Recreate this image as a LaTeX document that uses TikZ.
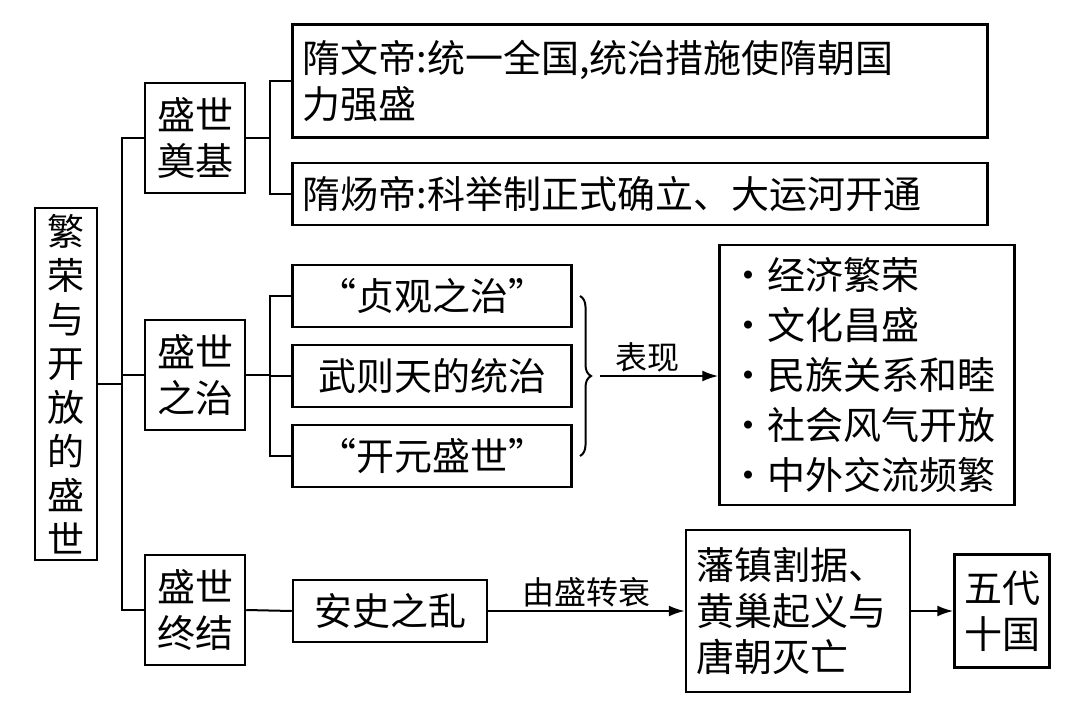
\documentclass[tikz,border=0pt]{standalone}
\usepackage{fontspec}
\setmainfont{Noto Sans CJK SC}
\usetikzlibrary{arrows.meta,decorations.pathreplacing}
\tikzset{
  box/.style={draw, line width=2.5pt, inner sep=0pt, font=\fontsize{38}{46}\selectfont},
  lbox/.style={box, align=left, inner xsep=10pt},
  link/.style={line width=2pt},
  arr/.style={line width=2pt, -{Latex[length=16pt,width=11pt]}},
  lab/.style={font=\fontsize{32}{36}\selectfont, above}
}
\begin{document}
\begin{tikzpicture}[x=1pt, y=-1pt]
  \useasboundingbox (0,0) rectangle (1076,720);

  % root
  \node[box, minimum width=62pt, minimum height=352pt, align=center,
        font=\fontsize{37}{44}\selectfont] (root) at (66,384)
        {繁\\荣\\与\\开\\放\\的\\盛\\世};

  % level one
  \node[box, minimum width=100pt, minimum height=110pt, align=center] (jd) at (195,138) {盛世\\奠基};
  \node[box, minimum width=100pt, minimum height=110pt, align=center] (zz) at (195,375) {盛世\\之治};
  \node[box, minimum width=100pt, minimum height=110pt, align=center] (zj) at (195,610) {盛世\\终结};

  % level two
  \node[lbox, text width=675pt, minimum height=113pt] (wd) at (640,81)
        {隋文帝:统一全国,统治措施使隋朝国\\力强盛};
  \node[lbox, text width=675pt, minimum height=62pt] (yd) at (640,194)
        {隋炀帝:科举制正式确立、大运河开通};
  \node[box, minimum width=279pt, minimum height=62pt] (zg) at (432,296) {“贞观之治”};
  \node[box, minimum width=279pt, minimum height=62pt] (wz) at (432,376) {武则天的统治};
  \node[box, minimum width=279pt, minimum height=62pt] (ky) at (432,456) {“开元盛世”};
  \node[lbox, text width=275pt, minimum height=260pt,
        font=\fontsize{38}{50}\selectfont] (list) at (867,375)
        {·经济繁荣\\·文化昌盛\\·民族关系和睦\\·社会风气开放\\·中外交流频繁};
  \node[box, minimum width=194pt, minimum height=62pt] (as) at (390,611) {安史之乱};
  \node[lbox, text width=204pt, minimum height=162pt] (fz) at (798,611)
        {藩镇割据、\\黄巢起义与\\唐朝灭亡};
  \node[box, minimum width=95pt, minimum height=113pt, align=center] (wdsg) at (1002,611) {五代\\十国};

  % tree lines
  \coordinate (rt) at (122,384);
  \draw[link] (root.east) -- (rt);
  \draw[link] (jd.west) -| (rt);
  \draw[link] (zj.west) -| (rt);
  \draw[link] (zz.west) -- (zz.west -| rt);

  \coordinate (b1) at (270,138);
  \draw[link] (jd.east) -- (b1);
  \draw[link] (wd.west) -| (b1);
  \draw[link] (yd.west) -| (b1);

  \coordinate (b2) at (270,375);
  \draw[link] (zz.east) -- (b2);
  \draw[link] (zg.west) -| (b2);
  \draw[link] (ky.west) -| (b2);
  \draw[link] (wz.west) -- (wz.west -| b2);

  \draw[link] (zj.east) -- (as.west);

  % brace and arrows
  \draw[link, decorate, decoration={brace, amplitude=11pt}] (580,296) -- (580,456);
  \coordinate (bt) at (600,376);
  \draw[arr] (bt) -- (bt -| list.west) node[lab, midway, pos=0.4] {表现};
  \draw[arr] (as.east) -- (fz.west) node[lab, midway] {由盛转衰};
  \draw[arr] (fz.east) -- (wdsg.west);
\end{tikzpicture}
\end{document}
